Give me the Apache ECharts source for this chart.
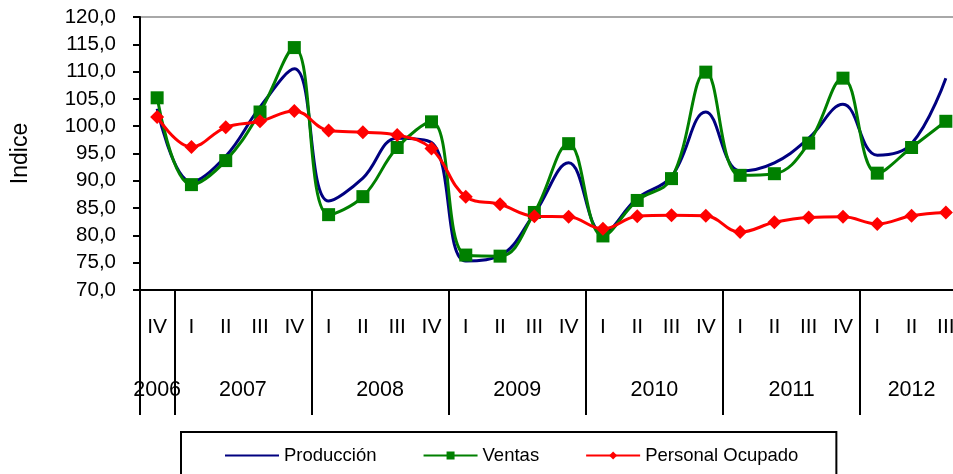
<!DOCTYPE html>
<html><head><meta charset="utf-8">
<script src="https://cdn.jsdelivr.net/npm/echarts@6/dist/echarts.min.js"></script>
<style>html,body{margin:0;padding:0;background:#fff;overflow:hidden;width:953px;height:474px}#c{width:963px;height:474px}</style>
</head><body><div id="c"></div>
<script>
const quarters = ['IV','I','II','III','IV','I','II','III','IV','I','II','III','IV','I','II','III','IV','I','II','III','IV','I','II','III'];
const years = ['2006','2007','2008','2009','2010','2011','2012'];
const quartersPerYear = [1,4,4,4,4,4,3];
const yMin = 70, yMax = 120, yStep = 5;
const produccion = [103.2, 89.8, 94.5, 103.5, 110.5, 86.3, 90.5, 97.8, 97.0, 75.3, 76.3, 84.0, 93.3, 80.4, 86.8, 90.8, 102.6, 91.8, 93.3, 97.8, 104.0, 94.7, 96.8, 108.8];
const ventas = [105.2, 89.3, 93.7, 102.6, 114.4, 83.8, 87.1, 96.1, 100.8, 76.4, 76.2, 84.2, 96.8, 79.9, 86.4, 90.4, 109.9, 91.0, 91.3, 96.9, 108.8, 91.4, 96.1, 100.9];
const personal = [101.7, 96.2, 99.8, 100.9, 102.8, 99.2, 98.9, 98.4, 95.9, 87.1, 85.7, 83.5, 83.4, 81.2, 83.5, 83.7, 83.6, 80.6, 82.4, 83.3, 83.4, 82.1, 83.6, 84.2];

// half-quarter slots for the year axis
const nSlots = quarters.length * 2 + 1;
const yearLabels = new Array(nSlots).fill('');
const yearBounds = new Set();
let start = 0;
years.forEach((y, i) => {
  yearBounds.add(start * 2);
  yearLabels[start * 2 + quartersPerYear[i]] = y;
  start += quartersPerYear[i];
});
yearBounds.add(start * 2);

const FONT = "'Liberation Sans', Arial, sans-serif";
const SMOOTH = 0.4;
const chart = echarts.init(document.getElementById('c'));
chart.setOption({
  animation: false,
  backgroundColor: '#fff',
  textStyle: { fontFamily: FONT, color: '#000' },
  grid: { left: 140, top: 17, right: 0, height: 273, show: true, borderColor: '#8c8c8c', borderWidth: 1.5, backgroundColor: 'transparent' },
  legend: {
    left: 181, top: 432,
    padding: [14, 38, 14, 43],
    borderColor: '#000', borderWidth: 2, borderRadius: 0,
    itemWidth: 54, itemHeight: 10, itemGap: 46,
    textStyle: { fontFamily: FONT, fontSize: 18.5, color: '#000' },
    data: ['Producción', 'Ventas', 'Personal Ocupado']
  },
  xAxis: [
    {
      type: 'category', data: quarters, boundaryGap: true, position: 'bottom',
      axisLine: { lineStyle: { color: '#000', width: 2 } },
      axisTick: { alignWithLabel: false, length: 63, lineStyle: { color: '#000', width: 2 } },
      axisLabel: { interval: 0, margin: 27, fontSize: 21, color: '#000', fontFamily: FONT },
      splitLine: { show: false }
    },
    {
      type: 'category', data: yearLabels, boundaryGap: false, position: 'bottom',
      axisLine: { show: false },
      axisTick: { show: true, length: 125, interval: (idx) => yearBounds.has(idx), lineStyle: { color: '#000', width: 2 } },
      axisLabel: { interval: (idx) => yearLabels[idx] !== '', margin: 89, fontSize: 21.5, color: '#000', fontFamily: FONT },
      splitLine: { show: false }
    }
  ],
  yAxis: {
    type: 'value', min: yMin, max: yMax, interval: yStep,
    name: 'Indice', nameLocation: 'middle', nameGap: 108, nameRotate: 90,
    nameTextStyle: { fontSize: 23, color: '#000', fontFamily: FONT },
    axisLine: { show: true, lineStyle: { color: '#000', width: 2 } },
    axisTick: { show: true, length: 7, lineStyle: { color: '#000', width: 2 } },
    axisLabel: { margin: 24, fontSize: 20.5, color: '#000', fontFamily: FONT, formatter: v => v.toFixed(1).replace('.', ',') },
    splitLine: { show: false }
  },
  series: [
    { name: 'Producción', type: 'line', data: produccion, smooth: SMOOTH, symbol: 'none', lineStyle: { color: '#000080', width: 3 }, itemStyle: { color: 'rgba(0,0,0,0)' } },
    { name: 'Ventas', type: 'line', data: ventas, smooth: SMOOTH, symbol: 'rect', symbolSize: 13, lineStyle: { color: '#008000', width: 3 }, itemStyle: { color: '#008000' } },
    { name: 'Personal Ocupado', type: 'line', data: personal, smooth: SMOOTH, symbol: 'diamond', symbolSize: [14, 14], lineStyle: { color: '#ff0000', width: 3 }, itemStyle: { color: '#ff0000' } }
  ]
});
</script>
</body></html>
